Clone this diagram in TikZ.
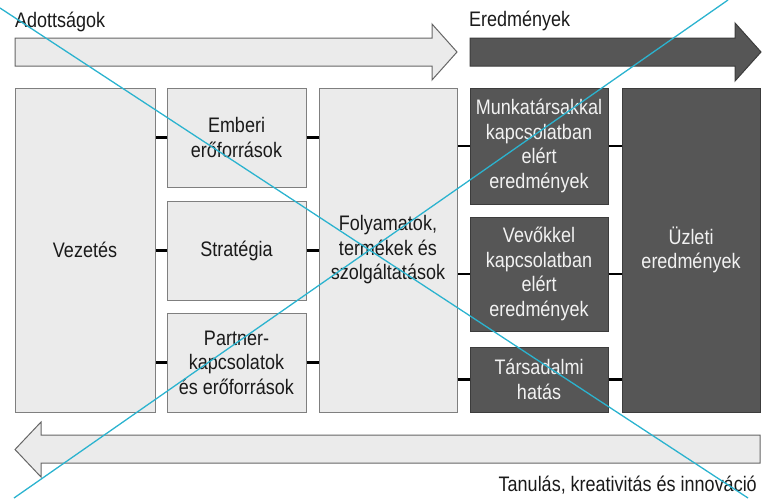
\documentclass[tikz,border=0pt]{standalone}
\usepackage{fontspec}
\setmainfont{Liberation Sans}[FakeStretch=0.857]
\definecolor{lightfill}{HTML}{EBEBEB}
\definecolor{lightdraw}{HTML}{7F7F7F}
\definecolor{darkfill}{HTML}{565656}
\definecolor{darkdraw}{HTML}{3C3C3C}
\definecolor{darktext}{HTML}{1A1A1A}
\definecolor{crossblue}{HTML}{2BB3CF}
\tikzset{
  lightbox/.style={draw=lightdraw, fill=lightfill, line width=1pt, text=darktext,
    align=center, inner sep=0pt, font=\fontsize{21}{24.5}\selectfont},
  darkbox/.style={draw=darkdraw, fill=darkfill, line width=1pt, text=white!95!black,
    align=center, inner sep=0pt, font=\fontsize{21}{24.5}\selectfont},
  conn/.style={draw=black, line width=2.5pt},
  lightarrow/.style={draw=lightdraw!80!black, fill=lightfill, line width=1pt, line join=miter},
  darkarrow/.style={draw=darkdraw, fill=darkfill, line width=1pt, line join=miter},
  heading/.style={inner sep=0pt, text=darktext, font=\fontsize{21}{24.5}\selectfont},
  cross/.style={draw=crossblue, line width=1.3pt}
}
\begin{document}
\begin{tikzpicture}[x=1pt, y=-1pt]
\useasboundingbox (0,0) rectangle (762,498);
% arrows
\path[lightarrow] (15,38) -- (432,38) -- (432,24) -- (457,52) -- (432,80) -- (432,66) -- (15,66) -- cycle;
\path[darkarrow] (470,38) -- (735,38) -- (735,23) -- (761,52) -- (735,81) -- (735,66) -- (470,66) -- cycle;
\path[lightarrow] (760,435) -- (41,435) -- (41,422) -- (15,449.5) -- (41,477) -- (41,463) -- (760,463) -- cycle;
% headings
\node[heading, anchor=base west] (adott) at (15,27) {Adottságok};
\node[heading, anchor=base west] (ered) at (469,26) {Eredmények};
\node[heading, anchor=base east] (tanul) at (757,491) {Tanulás, kreativitás és innováció};
% boxes
\node[lightbox, minimum width=140pt, minimum height=324pt] (vez) at (85,250) {Vezetés};
\node[lightbox, minimum width=139pt, minimum height=99pt] (emb) at (236.5,137.5) {Emberi\\erőforrások};
\node[lightbox, minimum width=139pt, minimum height=99pt] (str) at (236.5,250.5) {Stratégia};
\node[lightbox, minimum width=139pt, minimum height=99pt] (par) at (236.5,362.5) {Partner-\\kapcsolatok\\és erőforrások};
\node[lightbox, minimum width=138pt, minimum height=324pt] (proc) at (388,250) {Folyamatok,\\termékek és\\szolgáltatások};
\node[darkbox, minimum width=138pt, minimum height=116pt] (munk) at (539,146) {Munkatársakkal\\kapcsolatban\\elért\\eredmények};
\node[darkbox, minimum width=138pt, minimum height=114pt] (vev) at (539,274) {Vevőkkel\\kapcsolatban\\elért\\eredmények};
\node[darkbox, minimum width=138pt, minimum height=65pt] (tars) at (539,379.5) {Társadalmi\\hatás};
\node[darkbox, minimum width=138pt, minimum height=324pt] (uz) at (691,250) {Üzleti\\eredmények};
% connectors
\foreach \b in {emb,str,par}{
  \draw[conn] (\b.west) -- (\b.west -| vez.east);
  \draw[conn] (\b.east) -- (\b.east -| proc.west);
}
\foreach \b in {munk,vev,tars}{
  \draw[conn] (\b.west) -- (\b.west -| proc.east);
  \draw[conn] (\b.east) -- (\b.east -| uz.west);
}
% cross
\coordinate (ca1) at (0,8);
\coordinate (ca2) at (748,498);
\coordinate (cb1) at (728,0);
\coordinate (cb2) at (14,498);
\draw[cross] (ca1) -- (ca2);
\draw[cross] (cb1) -- (cb2);
\end{tikzpicture}
\end{document}
